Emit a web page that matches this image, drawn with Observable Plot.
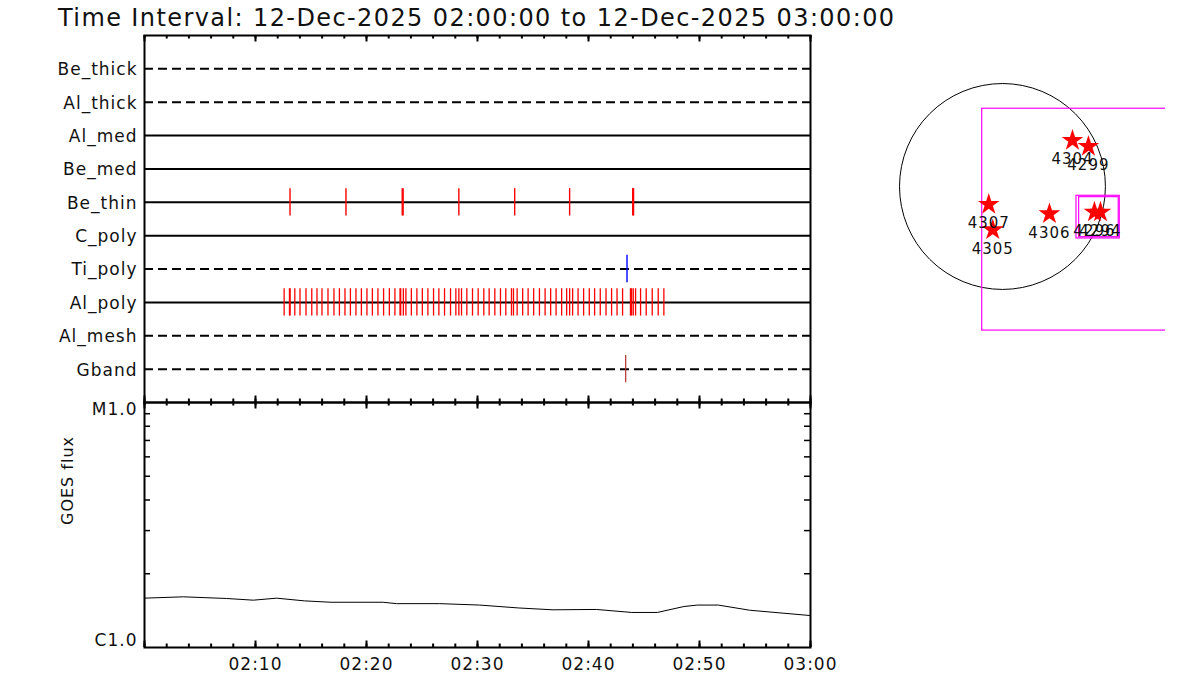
<!DOCTYPE html>
<html>
<head>
<meta charset="utf-8">
<script src="https://cdn.jsdelivr.net/npm/d3@7"></script>
<script src="https://cdn.jsdelivr.net/npm/@observablehq/plot@0.6"></script>
<style>
  body { margin: 0; background: #fff; }
  #wrap { position: relative; width: 1200px; height: 700px; overflow: hidden; background: #fff; font-family: "DejaVu Sans", sans-serif; }
  #title { position: absolute; left: 58px; top: 4px; font-size: 24px; letter-spacing: 1.4px; color: #111; white-space: nowrap; }
  .panel { position: absolute; }
</style>
</head>
<body>
<div id="wrap">
  <div id="title">Time Interval: 12-Dec-2025 02:00:00 to 12-Dec-2025 03:00:00</div>
</div>
<script>
// ---------------- data ----------------
const rowNames = ["Be_thick", "Al_thick", "Al_med", "Be_med", "Be_thin", "C_poly", "Ti_poly", "Al_poly", "Al_mesh", "Gband"];

// event times, minutes after 02:00
const beThinMinutes = [13.11, 18.15, 23.22, 23.30, 28.32, 33.35, 38.30, 43.98, 44.06];
const tiPolyMinutes = [43.47];
const gbandMinutes = [43.35];
const alPolyMinutes = [12.58, 13.06, 13.12, 13.54, 14.01, 14.55, 15.07, 15.54, 15.99, 16.53, 17.07, 17.56,
  18.06, 18.55, 19.05, 19.54, 20.04, 20.53, 21.03, 21.54, 22.06, 22.56, 23.02, 23.08, 23.32, 23.55,
  24.04, 24.54, 25.03, 25.53, 26.04, 26.52, 27.03, 27.57, 28.05, 28.32, 28.56, 29.04, 29.55, 30.06,
  30.57, 31.05, 31.56, 32.07, 32.55, 33.06, 33.24, 33.57, 34.07, 34.56, 35.06, 35.58, 36.09, 36.59,
  37.08, 37.58, 38.03, 38.30, 38.57, 39.06, 39.56, 40.07, 40.55, 41.06, 41.58, 42.08, 42.57, 43.07,
  43.78, 43.88, 44.03, 44.24, 44.69, 45.20, 45.74, 46.28, 46.79];

// time axis
const majorTickMinutes = [0, 10, 20, 30, 40, 50, 60];
const majorTickLabels = ["", "02:10", "02:20", "02:30", "02:40", "02:50", "03:00"];
const minorTickMinutes = [0, 2, 4, 6, 8, 10, 12, 14, 16, 18, 20, 22, 24, 26, 28, 30, 32, 34, 36, 38, 40, 42, 44, 46, 48, 50, 52, 54, 56, 58, 60];

// GOES flux (W/m^2)
const goesMinutes = [0, 3.5, 7.4, 9.8, 11.9, 14.4, 16.8, 21.5, 22.7, 26.6, 30.2, 33.7, 36.8, 40.7, 43.9, 46.2, 48.6, 49.8, 51.7, 54.5, 56.8, 60];
const goesFlux = [1.59e-6, 1.61e-6, 1.585e-6, 1.56e-6, 1.59e-6, 1.55e-6, 1.53e-6, 1.53e-6, 1.51e-6, 1.51e-6, 1.49e-6,
  1.45e-6, 1.425e-6, 1.43e-6, 1.39e-6, 1.39e-6, 1.47e-6, 1.49e-6, 1.49e-6, 1.42e-6, 1.39e-6, 1.35e-6];
const goesDomain = [1e-6, 1e-5];
const goesDomainLabels = ["C1.0", "M1.0"];
const goesMinorTicks = [2e-6, 3e-6, 4e-6, 5e-6, 6e-6, 7e-6, 8e-6, 9e-6];

// solar map (arcsec)
const sunRadius = 975;
const arNumbers = ["4304", "4299", "4307", "4305", "4306", "4296", "4294"];
const arX = [663, 814, -130, -92, 445, 871, 928];
const arY = [436, 379, -170, -410, -259, -243, -243];
const fovX1 = [-192, 701, 726];
const fovX2 = [1900, 1111, 1101];
const fovY1 = [-1364, -492, -480];
const fovY2 = [736, -88, -101];

// ---------------- styles ----------------
const dashedRows = new Set(["Be_thick", "Al_thick", "Ti_poly", "Al_mesh", "Gband"]);
const eventColor = {Be_thin: "#ff0000", Al_poly: "#ff0000", Ti_poly: "#0000ff", Gband: "#b03030"};
const eventWidth = {Be_thin: 1.4, Al_poly: 1.3, Ti_poly: 1.4, Gband: 1.2};
const baseStyle = {background: "transparent", overflow: "visible", fontFamily: "DejaVu Sans, sans-serif", fontSize: "17px", letterSpacing: "1px", color: "#111"};

const wrap = document.getElementById("wrap");
function place(svg, left, top) {
  svg.classList.add("panel");
  svg.style.left = left + "px";
  svg.style.top = top + "px";
  wrap.appendChild(svg);
}

function timeTicks(frameH) {
  return [
    Plot.ruleX(minorTickMinutes, {insetTop: frameH - 3.5, stroke: "#000", strokeWidth: 2}),
    Plot.ruleX(minorTickMinutes, {insetBottom: frameH - 3.5, stroke: "#000", strokeWidth: 2}),
    Plot.ruleX(majorTickMinutes, {insetTop: frameH - 6.5, stroke: "#000", strokeWidth: 2}),
    Plot.ruleX(majorTickMinutes, {insetBottom: frameH - 6.5, stroke: "#000", strokeWidth: 2})
  ];
}

// ---------------- top panel ----------------
const rows = rowNames.map((name, i) => ({name, pos: i + 1}));
const rowPos = (name) => rowNames.indexOf(name) + 1;
const events = [
  ...beThinMinutes.map((t) => ({row: "Be_thin", t})),
  ...alPolyMinutes.map((t) => ({row: "Al_poly", t})),
  ...tiPolyMinutes.map((t) => ({row: "Ti_poly", t})),
  ...gbandMinutes.map((t) => ({row: "Gband", t}))
];

const topW = 830, topH = 385, topMT = 5, topMB = 13;
const topPlot = Plot.plot({
  width: topW, height: topH,
  marginLeft: 144, marginRight: 20, marginTop: topMT, marginBottom: topMB,
  style: baseStyle,
  x: {domain: [0, 60], axis: null},
  y: {domain: [rowNames.length + 1, 0], axis: null},
  marks: [
    Plot.ruleY(rows.filter((r) => dashedRows.has(r.name)), {y: "pos", stroke: "#000", strokeWidth: 2, strokeDasharray: "9,5"}),
    Plot.ruleY(rows.filter((r) => !dashedRows.has(r.name)), {y: "pos", stroke: "#000", strokeWidth: 2}),
    ...["Al_poly", "Be_thin", "Ti_poly", "Gband"].map((name) =>
      Plot.ruleX(events.filter((e) => e.row === name), {
        x: "t",
        y1: (d) => rowPos(d.row) - 0.41,
        y2: (d) => rowPos(d.row) + 0.41,
        stroke: eventColor[name],
        strokeWidth: eventWidth[name]
      })
    ),
    ...timeTicks(topH - topMT - topMB),
    Plot.frame({stroke: "#000", strokeWidth: 2}),
    Plot.text(rows, {y: "pos", text: "name", frameAnchor: "left", textAnchor: "end", dx: -7, dy: 1, fontSize: 17, fill: "#111"})
  ]
});
place(topPlot, 0, 30);

// ---------------- GOES panel ----------------
const goes = goesMinutes.map((m, i) => ({m, f: goesFlux[i]}));
const botW = 830, botH = 304, botMT = 6, botMB = 53, botML = 144, botMR = 20;
const botFrameW = botW - botML - botMR, botFrameH = botH - botMT - botMB;
const majorTicks = majorTickMinutes.map((m, i) => ({m, label: majorTickLabels[i]}));
const botPlot = Plot.plot({
  width: botW, height: botH,
  marginLeft: botML, marginRight: botMR, marginTop: botMT, marginBottom: botMB,
  style: baseStyle,
  x: {domain: [0, 60], axis: null},
  y: {type: "log", domain: goesDomain, axis: null},
  marks: [
    Plot.line(goes, {x: "m", y: "f", stroke: "#000", strokeWidth: 1}),
    ...timeTicks(botFrameH),
    Plot.ruleY(goesMinorTicks, {insetRight: botFrameW - 6, stroke: "#000", strokeWidth: 1.5}),
    Plot.ruleY(goesMinorTicks, {insetLeft: botFrameW - 6, stroke: "#000", strokeWidth: 1.5}),
    Plot.frame({stroke: "#000", strokeWidth: 2}),
    Plot.text(majorTicks, {x: "m", text: "label", frameAnchor: "bottom", dy: 22, fontSize: 17, fill: "#111"}),
    Plot.text([goesDomain[1]], {y: (d) => d, text: () => goesDomainLabels[1], frameAnchor: "left", textAnchor: "end", dx: -7, dy: 7, fontSize: 17, fill: "#111"}),
    Plot.text([goesDomain[0]], {y: (d) => d, text: () => goesDomainLabels[0], frameAnchor: "left", textAnchor: "end", dx: -7, dy: -7, fontSize: 17, fill: "#111"}),
    Plot.text(["GOES flux"], {text: (d) => d, frameAnchor: "left", dx: -77, rotate: -90, fontSize: 16, fill: "#111"})
  ]
});
place(botPlot, 0, 396);

// ---------------- solar map ----------------
const mapW = 285, mapH = 270;
const mapX = [-1155, 1544], mapY = [-1458, 1098];
const pxPerArcsec = mapW / (mapX[1] - mapX[0]);
const ars = arNumbers.map((n, i) => ({n, x: arX[i], y: arY[i]}));
const fovs = fovX1.map((x1, i) => ({x1, x2: fovX2[i], y1: fovY1[i], y2: fovY2[i]}));
const mapPlot = Plot.plot({
  width: mapW, height: mapH,
  margin: 0,
  style: {...baseStyle, overflow: "hidden", fontSize: "15px"},
  x: {domain: mapX, axis: null},
  y: {domain: mapY, axis: null},
  marks: [
    Plot.dot([{x: 0, y: 0}], {x: "x", y: "y", r: sunRadius * pxPerArcsec, stroke: "#000", strokeWidth: 1, fill: "none"}),
    Plot.rect(fovs, {x1: "x1", x2: "x2", y1: "y1", y2: "y2", stroke: "#ff00ff", strokeWidth: 1.2, fill: "none", clip: true}),
    Plot.dot(ars, {x: "x", y: "y", symbol: "star", r: 6.8, fill: "#ff0000", stroke: "none"}),
    Plot.text(ars, {x: "x", y: "y", text: "n", dy: 19, fontSize: 15, fill: "#111"})
  ]
});
place(mapPlot, 880, 70);
</script>
</body>
</html>
